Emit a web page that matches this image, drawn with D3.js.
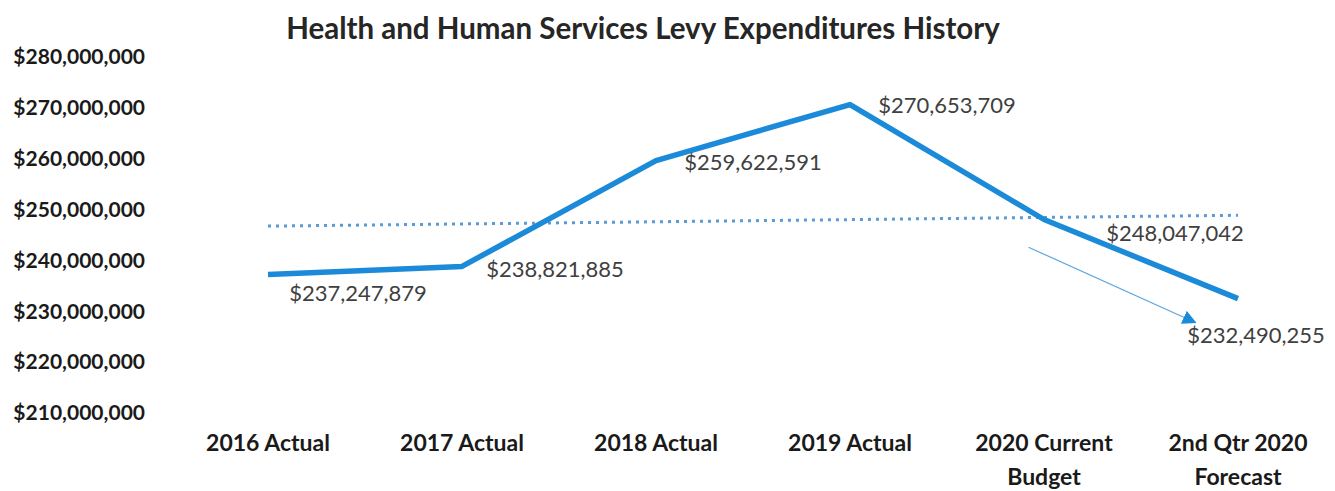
<!DOCTYPE html>
<html>
<head>
<meta charset="utf-8">
<script src="https://cdn.jsdelivr.net/npm/d3@7"></script>
<style>
  body { margin: 0; background: #fff; }
  text { font-family: Lato, "Open Sans", sans-serif; }
</style>
</head>
<body>
<script>
// chart size
var w = 1335;
var h = 491;

// data
var categories = [['2016 Actual'], ['2017 Actual'], ['2018 Actual'], ['2019 Actual'],
                  ['2020 Current', 'Budget'], ['2nd Qtr 2020', 'Forecast']];
var values = [237247879, 238821885, 259622591, 270653709, 248047042, 232490255];
var yTicks = [210000000, 220000000, 230000000, 240000000, 250000000, 260000000, 270000000, 280000000];
var title = 'Health and Human Services Levy Expenditures History';

// arrow annotation, in data units (category index, value)
var arrowFrom = [3.92, 242600000];
var arrowTo = [4.78, 227800000];

var svg = d3.select('body')
    .append('svg')
    .attr('width', w)
    .attr('height', h);

var xScale = d3.scaleLinear()
    .domain([0, categories.length - 1])
    .range([268, 1238]);

var yScale = d3.scaleLinear()
    .domain([210000000, 280000000])
    .range([413, 57]);

var money = d3.format('$,');

// title
svg.append('text')
    .attr('x', 643)
    .attr('y', 39)
    .attr('text-anchor', 'middle')
    .attr('font-size', '29.5px')
    .attr('font-weight', 'bold')
    .attr('fill', '#262626')
    .text(title);

// y axis labels (no axis line)
svg.selectAll('.ytick')
    .data(yTicks)
    .enter()
    .append('text')
    .attr('class', 'ytick')
    .attr('x', 145)
    .attr('y', d => yScale(d))
    .attr('dy', '0.35em')
    .attr('text-anchor', 'end')
    .attr('font-size', '21px')
    .attr('font-weight', 'bold')
    .attr('fill', '#1a1a1a')
    .text(d => money(d));

// x axis labels
var xl = svg.selectAll('.xtick')
    .data(categories)
    .enter()
    .append('text')
    .attr('class', 'xtick')
    .attr('x', (d, i) => xScale(i))
    .attr('y', 451)
    .attr('text-anchor', 'middle')
    .attr('font-size', '23px')
    .attr('font-weight', 'bold')
    .attr('fill', '#1a1a1a');

xl.selectAll('tspan')
    .data((d, i) => d.map(s => ({ s: s, i: i })))
    .enter()
    .append('tspan')
    .attr('x', d => xScale(d.i))
    .attr('dy', (d, j) => j === 0 ? 0 : 34)
    .text(d => d.s);

// linear trend line (least squares)
var n = values.length;
var mx = d3.mean(values, (d, i) => i);
var my = d3.mean(values);
var slope = d3.sum(values, (d, i) => (i - mx) * (d - my)) / d3.sum(values, (d, i) => (i - mx) * (i - mx));
var icpt = my - slope * mx;

svg.append('line')
    .attr('x1', xScale(0))
    .attr('y1', yScale(icpt))
    .attr('x2', xScale(n - 1))
    .attr('y2', yScale(icpt + slope * (n - 1)))
    .attr('stroke', '#5b9bd5')
    .attr('stroke-width', 3)
    .attr('stroke-dasharray', '3,5');

// main line
var line = d3.line()
    .x((d, i) => xScale(i))
    .y(d => yScale(d));

svg.append('path')
    .datum(values)
    .attr('d', line)
    .attr('fill', 'none')
    .attr('stroke', '#1b8ad8')
    .attr('stroke-width', 5.5)
    .attr('stroke-linejoin', 'round');

// arrow
svg.append('defs')
    .append('marker')
    .attr('id', 'arrowhead')
    .attr('viewBox', '0 0 10 10')
    .attr('refX', 9)
    .attr('refY', 5)
    .attr('markerWidth', 14)
    .attr('markerHeight', 14)
    .attr('markerUnits', 'userSpaceOnUse')
    .attr('orient', 'auto')
    .append('path')
    .attr('d', 'M0,0 L10,5 L0,10 Z')
    .attr('fill', '#1b8ad8');

svg.append('line')
    .attr('x1', xScale(arrowFrom[0]))
    .attr('y1', yScale(arrowFrom[1]))
    .attr('x2', xScale(arrowTo[0]))
    .attr('y2', yScale(arrowTo[1]))
    .attr('stroke', '#5aa7e0')
    .attr('stroke-width', 1.2)
    .attr('marker-end', 'url(#arrowhead)');

// data labels: offset from each point in pixels
var labelOffsets = [[90, 19], [93, 3], [97, 2], [97, 1], [131, 14], [18, 37]];

svg.selectAll('.dlabel')
    .data(values)
    .enter()
    .append('text')
    .attr('class', 'dlabel')
    .attr('x', (d, i) => xScale(i) + labelOffsets[i][0])
    .attr('y', (d, i) => yScale(d) + labelOffsets[i][1])
    .attr('dy', '0.35em')
    .attr('text-anchor', 'middle')
    .attr('font-size', '22px')
    .attr('fill', '#404040')
    .text(d => money(d));
</script>
</body>
</html>
